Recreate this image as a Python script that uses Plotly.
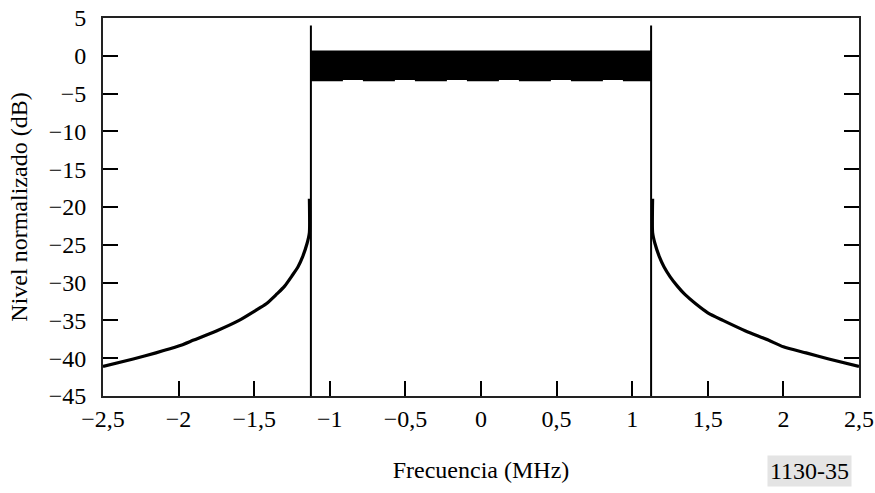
import plotly.graph_objects as go

# ---- data ----
left_freq = [-2.5, -2.3, -2.15, -2.0, -1.9, -1.75, -1.6, -1.5, -1.42, -1.35, -1.30, -1.25, -1.21, -1.18, -1.15, -1.135, -1.135]
left_level = [-41.1, -40.1, -39.3, -38.4, -37.6, -36.4, -35.0, -33.8, -32.8, -31.5, -30.5, -29.1, -27.9, -26.6, -24.8, -23.4, -18.9]
right_freq = [1.135, 1.135, 1.15, 1.18, 1.21, 1.25, 1.30, 1.35, 1.42, 1.5, 1.6, 1.75, 1.9, 2.0, 2.15, 2.3, 2.5]
right_level = [-18.9, -23.4, -24.8, -26.6, -27.9, -29.2, -30.5, -31.6, -32.8, -34.0, -35.0, -36.4, -37.6, -38.5, -39.3, -40.1, -41.1]

band_freq = [-1.125, 1.125]
band_top = 0.7
band_bottom = -3.2
band_ripple = -3.28

edge_freq = [-1.125, 1.125]
edge_low = -45
edge_high = 4

x_tickvals = [-2.5, -2, -1.5, -1, -0.5, 0, 0.5, 1, 1.5, 2, 2.5]
x_ticktext = ["\u22122,5", "\u22122", "\u22121,5", "\u22121", "\u22120,5", "0", "0,5", "1", "1,5", "2", "2,5"]
y_tickvals = [5, 0, -5, -10, -15, -20, -25, -30, -35, -40, -45]
y_ticktext = ["5", "0", "\u22125", "\u221210", "\u221215", "\u221220", "\u221225", "\u221230", "\u221235", "\u221240", "\u221245"]

FONT = "Liberation Serif"
FS = 24

fig = go.Figure()

# filled band
fig.add_trace(go.Scatter(
    x=[band_freq[0], band_freq[1], band_freq[1], band_freq[0], band_freq[0]],
    y=[band_top, band_top, band_bottom, band_bottom, band_top],
    fill="toself", fillcolor="black", mode="lines",
    line=dict(color="black", width=0), hoverinfo="skip", showlegend=False))
# ripple edge at bottom of band
fig.add_trace(go.Scatter(
    x=band_freq, y=[band_ripple, band_ripple], mode="lines",
    line=dict(color="black", width=1.5, dash="32px,20px"),
    hoverinfo="skip", showlegend=False))

# band edges
for f in edge_freq:
    fig.add_trace(go.Scatter(
        x=[f, f], y=[edge_low, edge_high], mode="lines",
        line=dict(color="black", width=2), showlegend=False, hoverinfo="skip"))

# spectral skirts
fig.add_trace(go.Scatter(x=left_freq, y=left_level, mode="lines",
                         line=dict(color="black", width=3.2, shape="spline", smoothing=0.6),
                         showlegend=False))
fig.add_trace(go.Scatter(x=right_freq, y=right_level, mode="lines",
                         line=dict(color="black", width=3.2, shape="spline", smoothing=0.6),
                         showlegend=False))

fig.update_layout(
    width=875, height=493,
    margin=dict(l=103, r=16, t=18, b=97, autoexpand=False),
    paper_bgcolor="white", plot_bgcolor="white",
    font=dict(family=FONT, size=FS, color="black"),
    showlegend=False,
)
fig.update_xaxes(
    range=[-2.5, 2.5], tickvals=x_tickvals, ticktext=x_ticktext,
    ticks="inside", ticklen=15, tickwidth=2, tickcolor="black",
    showline=True, linewidth=2, linecolor="#222", mirror=True,
    showgrid=False, zeroline=False, ticklabelstandoff=0, automargin=False,
    tickfont=dict(family=FONT, size=FS),
    title=dict(text="Frecuencia (MHz)", font=dict(family=FONT, size=FS), standoff=30),
)
fig.update_yaxes(
    range=[-45, 5], tickvals=y_tickvals, ticktext=y_ticktext,
    ticks="inside", ticklen=15, tickwidth=2, tickcolor="black",
    showline=True, linewidth=2, linecolor="#222", mirror="ticks",
    showgrid=False, zeroline=False, ticklabelstandoff=10, automargin=False,
    tickfont=dict(family=FONT, size=FS),
    title=dict(text="Nivel normalizado (dB)", font=dict(family=FONT, size=FS), standoff=14),
)

fig.add_annotation(
    text="1130-35", xref="paper", yref="paper", x=(809 - 103) / 756, y=-(471 - 396) / 378,
    showarrow=False, font=dict(family=FONT, size=FS, color="black"),
    bgcolor="#e4e4e4", borderpad=2, xanchor="center", yanchor="middle",
)

fig.write_html("out.html", config={"displayModeBar": False},
               post_script="document.body.style.margin='0';document.body.style.padding='0';")
